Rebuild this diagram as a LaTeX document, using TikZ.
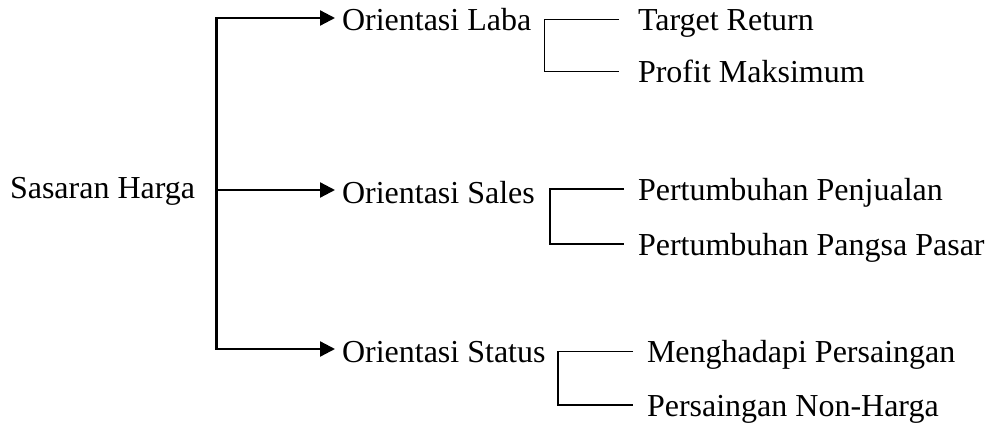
\documentclass[tikz,border=0pt]{standalone}
\usepackage{fontspec}
\setmainfont{Liberation Serif}
\usetikzlibrary{arrows.meta}
\begin{document}
\begin{tikzpicture}[x=1pt,y=-1pt,
  lbl/.style={anchor=base west,inner sep=0pt,outer sep=0pt,font=\fontsize{32}{38}\selectfont},
  trunk/.style={line width=2.3pt,line cap=rect},
  arr/.style={line width=2.3pt,-{Triangle[length=15pt,width=15pt]}},
  brk/.style={line width=1.9pt}]
\useasboundingbox (0,0) rectangle (988,423);
% texts
\node[lbl] (root) at (10,198) {Sasaran Harga};
\node[lbl] (laba) at (342,30) {Orientasi Laba};
\node[lbl] (sales) at (342,203) {Orientasi Sales};
\node[lbl] (status) at (342,362) {Orientasi Status};
\node[lbl] (l1) at (638,30) {Target Return};
\node[lbl] (l2) at (638,82) {Profit Maksimum};
\node[lbl] (s1) at (638,200) {Pertumbuhan Penjualan};
\node[lbl] (s2) at (638,255) {Pertumbuhan Pangsa Pasar};
\node[lbl] (t1) at (647,362) {Menghadapi Persaingan};
\node[lbl] (t2) at (647,416) {Persaingan Non-Harga};
% trunk
\coordinate (ttop) at (216.5,18);
\coordinate (tmid) at (216.5,190);
\coordinate (tbot) at (216.5,349);
\coordinate (alaba) at (335,18);
\coordinate (asales) at (335,190);
\coordinate (astatus) at (335,349);
\draw[trunk] (ttop) -- (tbot);
\draw[arr] (ttop) -- (alaba);
\draw[arr] (tmid) -- (asales);
\draw[arr] (tbot) -- (astatus);
% brackets
\coordinate (lc1) at (544.5,19.5); \coordinate (lr1) at (619,19.5);
\coordinate (lc2) at (544.5,71.5); \coordinate (lr2) at (619,71.5);
\draw[brk] (lr1) -- (lc1) -- (lc2) -- (lr2);
\coordinate (sc1) at (550,189); \coordinate (sr1) at (624,189);
\coordinate (sc2) at (550,244); \coordinate (sr2) at (624,244);
\draw[brk] (sr1) -- (sc1) -- (sc2) -- (sr2);
\coordinate (uc1) at (558,351.5); \coordinate (ur1) at (633,351.5);
\coordinate (uc2) at (558,405); \coordinate (ur2) at (633,405);
\draw[brk] (ur1) -- (uc1) -- (uc2) -- (ur2);
\end{tikzpicture}
\end{document}
